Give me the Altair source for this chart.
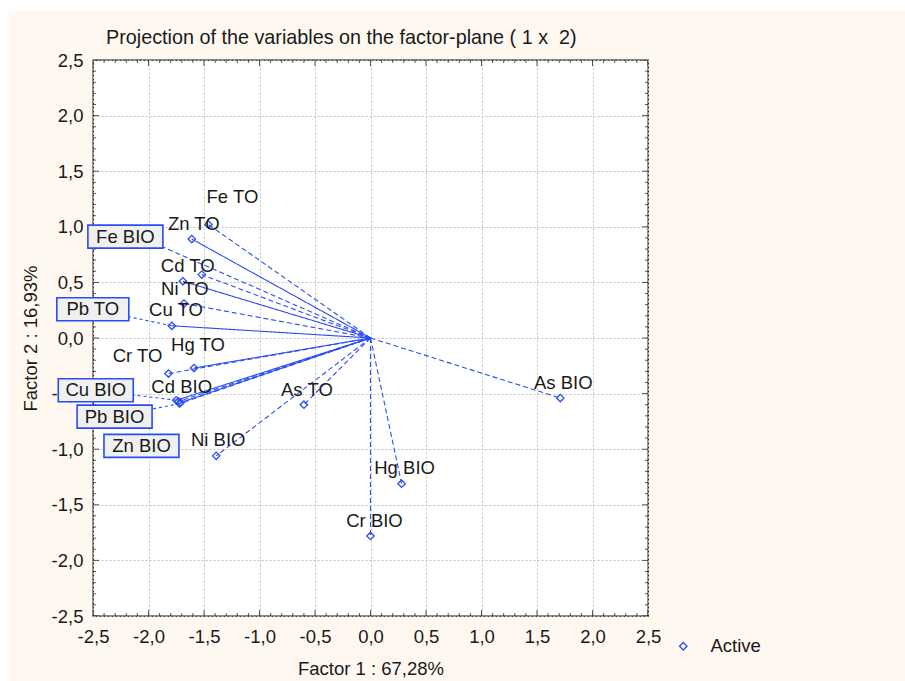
import altair as alt
import numpy as np
import pandas as pd

# ---- variable coordinates on factors 1 and 2 ----
names = ["Fe TO", "Zn TO", "Cd TO", "Ni TO", "Cu TO", "Pb TO", "Cr TO", "Hg TO", "As TO",
         "Fe BIO", "Cu BIO", "Pb BIO", "Zn BIO", "Cd BIO", "Ni BIO", "As BIO", "Hg BIO", "Cr BIO"]
factor1 = [-1.46, -1.61, -1.52, -1.69, -1.68, -1.79, -1.82, -1.59, -0.60,
           -1.92, -1.75, -1.72, -1.73, -1.71, -1.39, 1.71, 0.28, 0.00]
factor2 = [1.02, 0.89, 0.57, 0.51, 0.31, 0.11, -0.32, -0.27, -0.60,
           0.84, -0.56, -0.59, -0.57, -0.58, -1.06, -0.54, -1.31, -1.78]
line_style = ["dashed", "solid", "dashed", "solid", "dashed", "solid", "dashed", "solid", "dashed",
              "dashed", "solid", "dashed", "dashed", "solid", "dashed", "dashed", "dashed", "dashed"]
status = ["Active"] * len(names)

title_text = "Projection of the variables on the factor-plane ( 1 x \u00a02)"
x_title = "Factor 1 : 67,28%"
y_title = "Factor 2 : 16,93%"
axis_ticks = [-2.5, -2.0, -1.5, -1.0, -0.5, 0.0, 0.5, 1.0, 1.5, 2.0, 2.5]

# ---- layout / style ----
W, H = 555, 556
PAD = {"left": 93, "top": 60, "right": 257, "bottom": 65}
LO, HI = -2.5, 2.5
PX_X = W / (HI - LO)
PX_Y = H / (HI - LO)
BLUE = "#2a4cf6"
INK = "#1a1a1a"
CREAM = "#fef8f0"
FONT = "Liberation Sans"
FS = 18.5

# label offsets from each point, in pixels (default: just above)
label_shift = {"Fe TO": (24, -28), "Zn TO": (2, -15), "Cd TO": (-14, -9), "Ni TO": (2, 8),
               "Cu TO": (-8, 6), "Cr TO": (-31, -18), "Hg TO": (4, -23), "Cd BIO": (1, -15),
               "Ni BIO": (2, -16), "Hg BIO": (3, -16), "Cr BIO": (4, -15)}
DEFAULT_SHIFT = (3, -15)
# labels moved into boxes: box centre offset from the point (px), and whether a leader is drawn
boxed = {"Pb TO": ((-79, -16.5), True), "Fe BIO": ((-32, -8), False),
         "Cu BIO": ((-80.5, -10), True), "Pb BIO": ((-65, 13), True),
         "Zn BIO": ((-37, 44.5), False)}
BOX_H = 23

pts = pd.DataFrame({"name": names, "f1": factor1, "f2": factor2,
                    "style": line_style, "status": status})
pts["o1"] = 0.0
pts["o2"] = 0.0

plain_rows, box_rows = [], []
for n, a, b in zip(names, factor1, factor2):
    if n in boxed:
        (dx, dy), lead = boxed[n]
        cx, cy = a + dx / PX_X, b - dy / PX_Y
        bw = 57 + 3 * len(n)
        box_rows.append({"name": n, "f1": a, "f2": b, "cx": cx, "cy": cy, "lead": lead,
                         "x1": cx - bw / 2 / PX_X, "x2": cx + bw / 2 / PX_X,
                         "y1": cy - BOX_H / 2 / PX_Y, "y2": cy + BOX_H / 2 / PX_Y})
    else:
        dx, dy = label_shift.get(n, DEFAULT_SHIFT)
        plain_rows.append({"name": n, "lx": a + dx / PX_X, "ly": b - dy / PX_Y})
plain = pd.DataFrame(plain_rows)
boxes = pd.DataFrame(box_rows)
leaders = boxes[boxes["lead"]]

xs = alt.Scale(domain=[LO, HI], nice=False, zero=False)
ys = alt.Scale(domain=[LO, HI], nice=False, zero=False)
label_expr = "replace(replace(format(datum.value, '.1f'), '.', ','), '\u2212', '-')"

x_axis = alt.Axis(values=axis_ticks, labelExpr=label_expr, grid=True, gridDash=[2, 2],
                  gridColor="#c4c4c4", ticks=False, domain=False, labelFontSize=FS,
                  labelColor=INK, labelPadding=11, labelFont=FONT, title=x_title,
                  titleFont=FONT, titleFontSize=FS, titleFontWeight="normal",
                  titleColor=INK, titlePadding=14, labelFlush=False)
y_axis = alt.Axis(values=axis_ticks, labelExpr=label_expr, grid=True, gridDash=[2, 2],
                  gridColor="#c4c4c4", ticks=False, domain=False, labelFontSize=FS,
                  labelColor=INK, labelPadding=10, labelFont=FONT, title=y_title,
                  titleFont=FONT, titleFontSize=FS, titleFontWeight="normal",
                  titleColor=INK, titlePadding=11, labelFlush=False)


def X(field):
    return alt.X(field, scale=xs, axis=x_axis)


def Y(field):
    return alt.Y(field, scale=ys, axis=y_axis)


# thin white margin along the top and left page edges
edge = pd.DataFrame({"k": [0]})
strip_left = alt.Chart(edge).mark_rect(color="white").encode(
    x=alt.value(-PAD["left"]), x2=alt.value(-PAD["left"] + 9),
    y=alt.value(-PAD["top"]), y2=alt.value(H + PAD["bottom"]))
strip_top = alt.Chart(edge).mark_rect(color="white").encode(
    x=alt.value(-PAD["left"]), x2=alt.value(W + PAD["right"]),
    y=alt.value(-PAD["top"]), y2=alt.value(-PAD["top"] + 11))

# projection lines from the origin
rays = alt.Chart(pts).mark_rule(color=BLUE, strokeWidth=1.1).encode(
    x=X("o1:Q"), y=Y("o2:Q"), x2="f1:Q", y2="f2:Q",
    strokeDash=alt.StrokeDash("style:N", legend=None,
                              scale=alt.Scale(domain=["solid", "dashed"],
                                              range=[[1, 0], [5, 3]])),
)

leader = alt.Chart(leaders).mark_rule(color=BLUE, strokeWidth=1.1, strokeDash=[3, 3]).encode(
    x=X("f1:Q"), y=Y("f2:Q"), x2="cx:Q", y2="cy:Q")

marks = alt.Chart(pts).mark_point(shape="diamond", filled=False, size=55,
                                  strokeWidth=1.3, opacity=1).encode(
    x=X("f1:Q"), y=Y("f2:Q"),
    color=alt.Color("status:N", scale=alt.Scale(domain=["Active"], range=[BLUE]),
                    legend=alt.Legend(title=None, orient="none", legendX=581, legendY=577,
                                      labelFontSize=FS, labelFont=FONT, labelColor=INK,
                                      labelOffset=18, symbolSize=55, symbolStrokeWidth=1.3)),
)

labels = alt.Chart(plain).mark_text(font=FONT, fontSize=FS, color=INK,
                                    align="center", baseline="middle").encode(
    x=X("lx:Q"), y=Y("ly:Q"), text="name:N")

box_rect = alt.Chart(boxes).mark_rect(fill="#f0f0f0", stroke=BLUE, strokeWidth=1.6).encode(
    x=X("x1:Q"), x2="x2:Q", y=Y("y1:Q"), y2="y2:Q")

box_text = alt.Chart(boxes).mark_text(font=FONT, fontSize=FS, color=INK,
                                      align="center", baseline="middle").encode(
    x=X("cx:Q"), y=Y("cy:Q"), text="name:N")

# inward frame ticks: minor every 0.1, major every 0.5 (clipped to the frame)
tv = np.round(np.arange(-25, 26) / 10, 1)
ticks = pd.DataFrame({"v": tv, "len": np.where(np.isclose((tv * 2) % 1, 0), 12, 6)})
tick_layers = []
for pos in (0, H):
    tick_layers.append(alt.Chart(ticks).mark_tick(orient="vertical", clip=True, color="#111",
                                                  thickness=1).encode(
        x=X("v:Q"), y=alt.value(pos), size=alt.Size("len:Q", scale=None)))
for pos in (0, W):
    tick_layers.append(alt.Chart(ticks).mark_tick(orient="horizontal", clip=True, color="#111",
                                                  thickness=1).encode(
        y=Y("v:Q"), x=alt.value(pos), size=alt.Size("len:Q", scale=None)))

# the white strips reach the page top, so the title offset is measured from there
chart = alt.layer(strip_left, strip_top, *tick_layers, rays, leader, marks, labels,
                  box_rect, box_text).properties(
    width=W, height=H,
    padding=PAD,
    autosize=alt.AutoSizeParams(type="none"),
    background=CREAM,
    title=alt.TitleParams(title_text, anchor="start", frame="group", dx=13,
                          offset=-48,
                          font=FONT, fontSize=19.8, fontWeight="normal", color=INK),
).configure_view(fill="white", stroke="#111", strokeWidth=1.3)

chart.save("out.html", embed_options={"renderer": "svg", "actions": False})
